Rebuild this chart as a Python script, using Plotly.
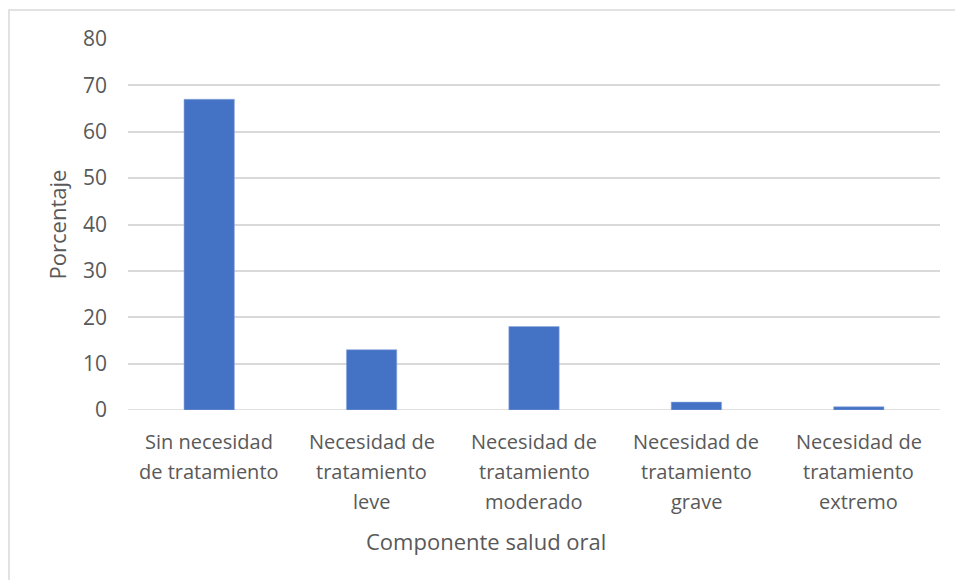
import plotly.graph_objects as go

categories = ["Sin necesidad de tratamiento", "Necesidad de tratamiento leve",
              "Necesidad de tratamiento moderado", "Necesidad de tratamiento grave",
              "Necesidad de tratamiento extremo"]
label_lines = [["Sin necesidad", "de tratamiento"],
               ["Necesidad de", "tratamiento", "leve"],
               ["Necesidad de", "tratamiento", "moderado"],
               ["Necesidad de", "tratamiento", "grave"],
               ["Necesidad de", "tratamiento", "extremo"]]
values = [67, 13, 18, 1.7, 0.7]
y_ticks = [0, 10, 20, 30, 40, 50, 60, 70, 80]

FONT = "Open Sans"
GREY = "#595959"

# page has an 8px body margin; figure coordinates are screen minus 8
W, H = 955, 572
L, T, R, B = 120, 31, 23, 170
PW = W - L - R
PH = H - T - B

fig = go.Figure(go.Bar(x=categories, y=values, marker=dict(color="#4472C4",
                line=dict(color="#8fa9dc", width=0.6)), width=0.31))

annotations = []
for cat, lines in zip(categories, label_lines):
    for i, ln in enumerate(lines):
        annotations.append(dict(x=cat, xref="x", y=0, yref="y", yshift=-31 - 30 * i,
                                text=ln, showarrow=False, yanchor="middle",
                                font=dict(family=FONT, size=20, color=GREY)))
annotations.append(dict(x=(478 - L) / PW, xref="paper", y=(402 - 533) / PH, yref="paper",
                        text="Componente salud oral", showarrow=False, yanchor="middle",
                        font=dict(family=FONT, size=22, color=GREY)))

fig.update_layout(
    width=W, height=H,
    margin=dict(l=L, r=R, t=T, b=B),
    paper_bgcolor="white", plot_bgcolor="white",
    showlegend=False,
    annotations=annotations,
    xaxis=dict(showticklabels=False, showgrid=False, zeroline=False,
               showline=False),
    yaxis=dict(range=[0, 80], tickvals=y_ticks, showgrid=True, gridcolor="#d9d9d9",
               gridwidth=1.5, zeroline=False, ticks="", ticklabelstandoff=20,
               tickfont=dict(family=FONT, size=21, color=GREY),
               title=dict(text="Porcentaje", standoff=10,
                          font=dict(family=FONT, size=22, color=GREY))),
    shapes=[dict(type="rect", xref="paper", yref="paper",
                 x0=(1 - L) / PW, x1=(W + 20 - L) / PW,
                 y0=(402 - H - 20) / PH, y1=(402 - 2) / PH,
                 line=dict(color="#d9d9d9", width=1.5), layer="below"),
            dict(type="line", xref="paper", yref="y", x0=0, x1=1, y0=0, y1=0,
                 line=dict(color="#d9d9d9", width=1.5), layer="below")],
)
fig.write_html("out.html")
